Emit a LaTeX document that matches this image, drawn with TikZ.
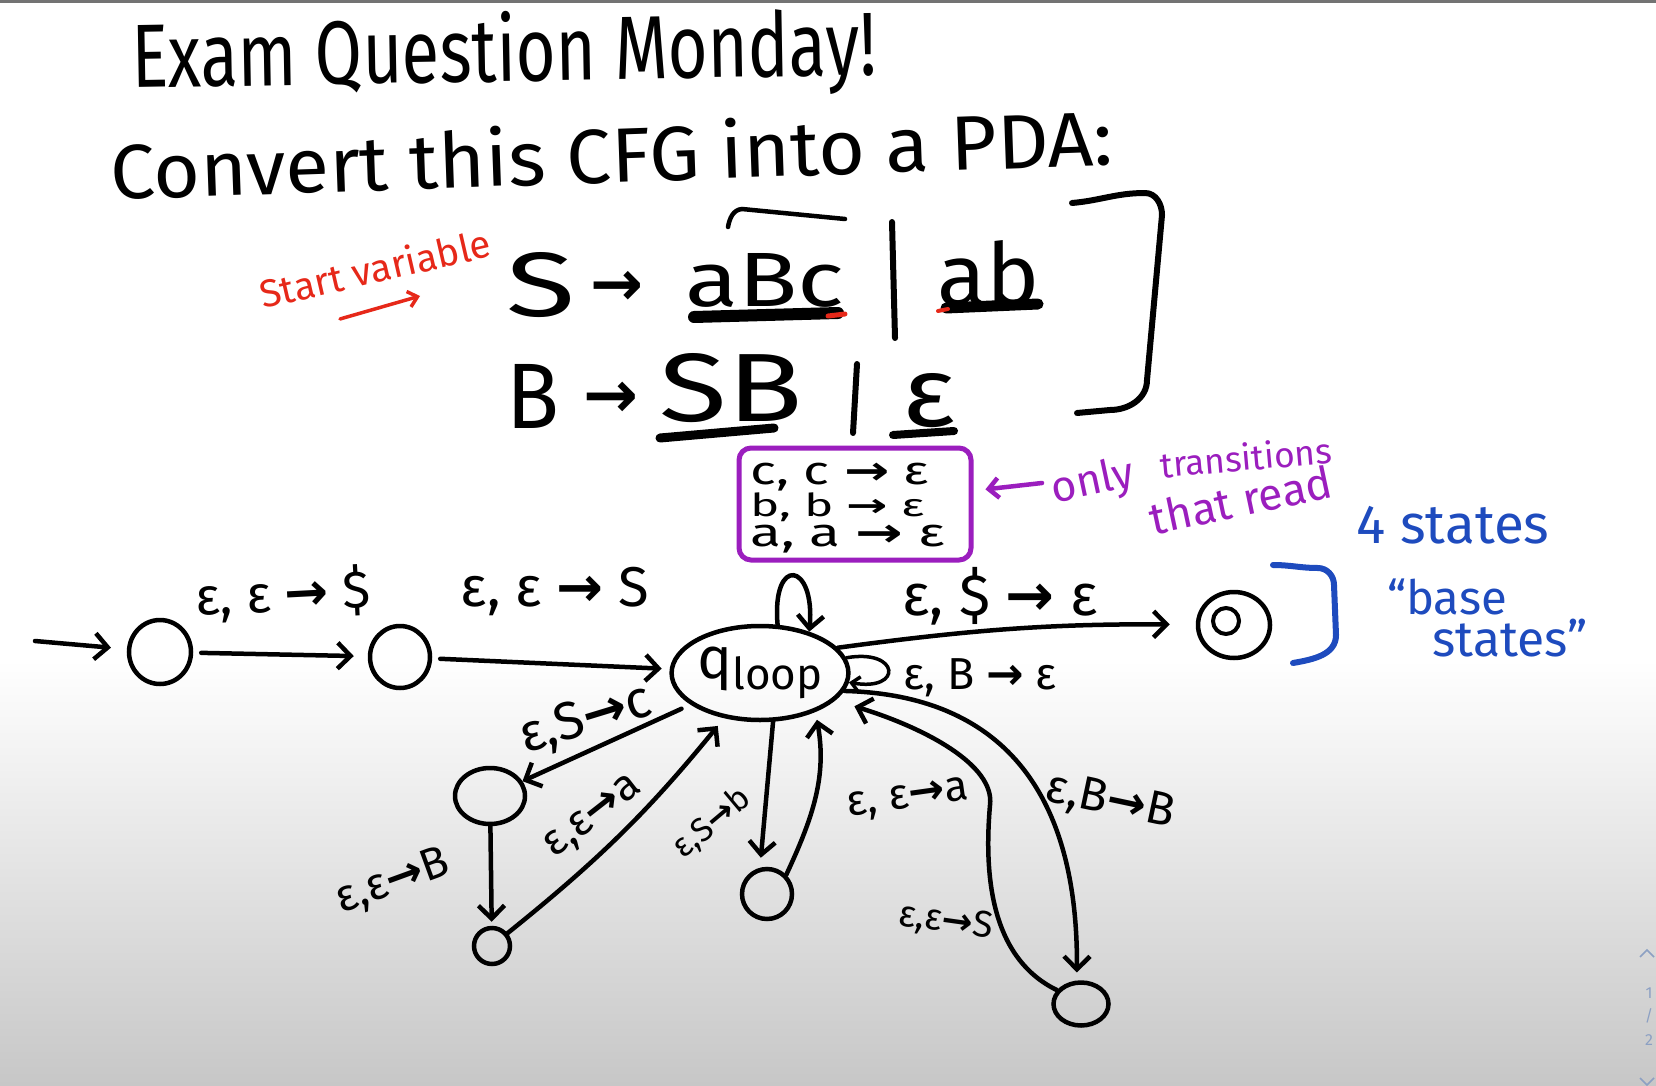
\documentclass[tikz,border=0pt]{standalone}
\usepackage{fontspec}
\usepackage{graphicx}
\setmainfont{Fira Sans}
\newfontfamily\dv{DejaVu Sans}
\usetikzlibrary{arrows.meta,shapes.geometric}
\definecolor{pur}{RGB}{155,30,190}
\definecolor{hred}{RGB}{230,40,25}
\definecolor{hblue}{RGB}{30,75,190}
\definecolor{pgi}{RGB}{140,160,195}
\newcommand\rz[2]{\resizebox{#1pt}{!}{#2}}
\newcommand\rzh[3]{\resizebox*{#1pt}{#2pt}{#3}}
\newcommand\ra{{\dv\bfseries →}}
\tikzset{
  stbase/.style={draw, line width=4.5pt, inner sep=0pt},
  circ/.style={stbase, circle},
  ell/.style={stbase, ellipse},
  arr/.style={line width=4.5pt, line cap=round, line join=round, -{Straight Barb[length=13pt,width=26pt]}},
  sarr/.style={line width=3.5pt, line cap=round, -{Straight Barb[length=8pt,width=15pt]}},
  lab/.style={inner sep=0pt},
  hand/.style={line width=6pt, line cap=round, line join=round},
}
\begin{document}
\begin{tikzpicture}[x=1pt,y=-1pt]
\useasboundingbox (0,0) rectangle (1656,1086);
\fill[white] (0,0) rectangle (1656,660);
\shade[top color=white,bottom color=black!22] (0,660) rectangle (1656,1086);
\fill[black!55] (0,0) rectangle (1656,3);

% title
\node[lab,anchor=base west,rotate=1] (title) at (132,88) {\resizebox{745pt}{70pt}{Exam Question Monday!}};
\node[lab,anchor=base west,rotate=2] (conv) at (111,200) {\resizebox{1003pt}{60pt}{Convert this CFG into a PDA:}};

% start variable
\node[lab,text=hred,rotate=13] (sv) at (375,268) {\rz{236}{Start variable}};
\coordinate (ra1) at (340,319);
\coordinate (ra2) at (420,296);
\draw[hred,line width=3.5pt,line cap=round,-{Straight Barb[length=9pt,width=16pt]}] (ra1) -- (ra2);

% grammar
\node[lab] (gS) at (541,285) {\resizebox{69pt}{64pt}{S}};
\node[lab] (gA1) at (617,288) {\resizebox{53pt}{!}{\ra}};
\node[lab] (gaBc) at (765,280) {\resizebox{159pt}{53pt}{aBc}};
\node[lab] (gab) at (989,274) {\resizebox{102pt}{65pt}{ab}};
\node[lab] (gB) at (533,396) {\resizebox{53pt}{64pt}{B}};
\node[lab] (gA2) at (611,400) {\resizebox{55pt}{!}{\ra}};
\node[lab] (gSB) at (731,388) {\resizebox{143pt}{68pt}{SB}};
\node[lab] (geps) at (929,401) {\resizebox{53pt}{53pt}{ε}};
\draw[hand] (892,222) -- (895,338);
\draw[hand] (857,364) -- (853,433);
\draw[line width=12pt,line cap=round] (694,317) -- (838,313);
\draw[hred,line width=5pt,line cap=round] (828,316) -- (845,314);
\draw[line width=11pt,line cap=round] (946,308) -- (1038,304);
\draw[hred,line width=4pt,line cap=round] (938,311) -- (948,309);
\draw[line width=9pt,line cap=round] (660,438) -- (774,428);
\draw[line width=8pt,line cap=round] (893,435) -- (954,431);
% small arrow above aBc
\draw[line width=4.5pt,line cap=round] (845,219) -- (742,209) to[out=185,in=80] (728,227);
% bracket
\draw[hand] (1072,203) to[out=5,in=180] (1145,193) to[out=0,in=90] (1162,215) -- (1147,380) to[out=-90,in=0] (1110,410) -- (1077,413);

% purple box
\node[draw=pur,line width=5pt,rounded corners=12pt,minimum width=232pt,minimum height=112pt,inner sep=0pt] (pbox) at (855,504) {};
\node[lab,anchor=west] (t1) at (750,477) {\rzh{179}{28}{c, c \ra\ ε}};
\node[lab,anchor=west] (t2) at (750,507) {\rzh{174}{29}{b, b \ra\ ε}};
\node[lab,anchor=west] (t3) at (750,539) {\rzh{195}{28}{a, a \ra\ ε}};
\coordinate (pa) at (1042,483);
\draw[pur,line width=4.5pt,line cap=round,-{Straight Barb[length=10pt,width=20pt]},shorten >=12pt] (pa) -- (pbox);
\node[lab,text=pur,rotate=12] (only) at (1093,483) {\rz{84}{only}};
\node[lab,text=pur,rotate=5] (trans) at (1246,457) {\rz{172}{transitions}};
\node[lab,text=pur,rotate=12] (tread) at (1241,500) {\rz{185}{that read}};

% blue notes
\node[lab,text=hblue] (fs) at (1453,525) {\rz{193}{4 states}};
\node[lab,text=hblue] (bs1) at (1447,597) {\rz{120}{“base}};
\node[lab,text=hblue] (bs2) at (1510,638) {\rz{155}{states”}};
\draw[hblue,hand] (1273,565) to[out=0,in=180] (1318,568) to[out=0,in=90] (1334,585) -- (1336,635) to[out=-90,in=10] (1293,663);

% states
\node[ell,minimum width=62pt,minimum height=64pt] (q0) at (160,652) {};
\node[ell,minimum width=60pt,minimum height=62pt] (q1) at (400,657) {};
\node[ell,minimum width=154pt,minimum height=94pt] (ql) at (760,673) {\rz{125}{q\raisebox{-2pt}{\fontsize{7.5}{7.5}\selectfont loop}}};
\node[ell,minimum width=72pt,minimum height=66pt] (qf) at (1234,625) {};
\node[circ,line width=4pt,minimum size=26pt] (qfi) at (1226,621) {};
\node[ell,minimum width=70pt,minimum height=56pt] (sa) at (490,796) {};
\node[circ,minimum size=36pt] (sb) at (492,946) {};
\node[circ,minimum size=50pt] (sc) at (767,894) {};
\node[ell,minimum width=55pt,minimum height=43pt] (sd) at (1081,1004) {};

% edges
\coordinate (st) at (35,641);
\draw[arr,shorten >=16pt] (st) -- (q0);
\draw[arr,shorten <=8pt,shorten >=14pt] (q0) -- (q1);
\node[lab,rotate=3] (l1) at (283,594) {\rz{175}{ε, ε \ra\ \$}};
\draw[arr,shorten <=8pt,shorten >=8pt] (q1) -- (ql);
\node[lab] (l2) at (555,591) {\rz{188}{ε, ε \ra\ S}};
\draw[arr] (ql.70) .. controls +(95:70pt) and +(85:70pt) .. (ql.40);
\draw[arr,shorten >=26pt] (ql.18) to[bend left=4] (qf);
\node[lab] (l3) at (1000,596) {\rz{195}{ε, \$ \ra\ ε}};
\draw[sarr] (ql.10) .. controls +(10:55pt) and +(-10:55pt) .. (ql.-6);
\node[lab] (l4) at (980,678) {\rz{153}{ε, B \ra\ ε}};
\draw[arr,shorten <=10pt] (ql) -- (sa);
\node[lab,rotate=17] (l5) at (586,720) {\rz{136}{ε,S\ra c}};
\draw[arr,shorten >=4pt] (sa) -- (sb);
\node[lab,rotate=20] (l6) at (393,882) {\rz{118}{ε,ε\ra B}};
\draw[arr,shorten >=10pt] (sb) to[bend right=6] (ql);
\node[lab,rotate=38] (l7) at (594,818) {\rz{112}{ε,ε\ra a}};
\draw[arr,shorten >=10pt] (ql.-75) -- (sc.105);
\node[lab,rotate=40] (l8) at (712,823) {\rz{90}{ε,S\ra b}};
\draw[arr,shorten >=8pt] (sc.45) to[out=65,in=-80] (ql.-35);
\node[lab,rotate=8] (l9) at (908,800) {\rz{122}{ε, ε\ra a}};
\draw[arr,shorten >=8pt] (ql.-12) .. controls (1000,695) and (1078,790) .. (sd.100);
\node[lab,rotate=-12] (l10) at (1110,802) {\rz{130}{ε,B\ra B}};
\coordinate (sdm) at (990,805);
\draw[arr,shorten >=20pt] (sd.150) .. controls (995,960) and (983,885) .. (sdm) .. controls (995,765) and (925,728) .. (ql.-20);
\node[lab,rotate=-8] (l11) at (946,922) {\rz{95}{ε,ε\ra S}};

% page indicator
\draw[pgi,line width=1.5pt] (1640,957) -- (1647,950) -- (1654,957);
\node[lab,text=pgi,font=\fontsize{16}{16}\selectfont] (pg1) at (1649,993) {1};
\node[lab,text=pgi,font=\fontsize{16}{16}\selectfont] (pg2) at (1649,1016) {/};
\node[lab,text=pgi,font=\fontsize{16}{16}\selectfont] (pg3) at (1649,1040) {2};
\draw[pgi,line width=1.5pt] (1640,1078) -- (1647,1085) -- (1654,1078);
\end{tikzpicture}
\end{document}
